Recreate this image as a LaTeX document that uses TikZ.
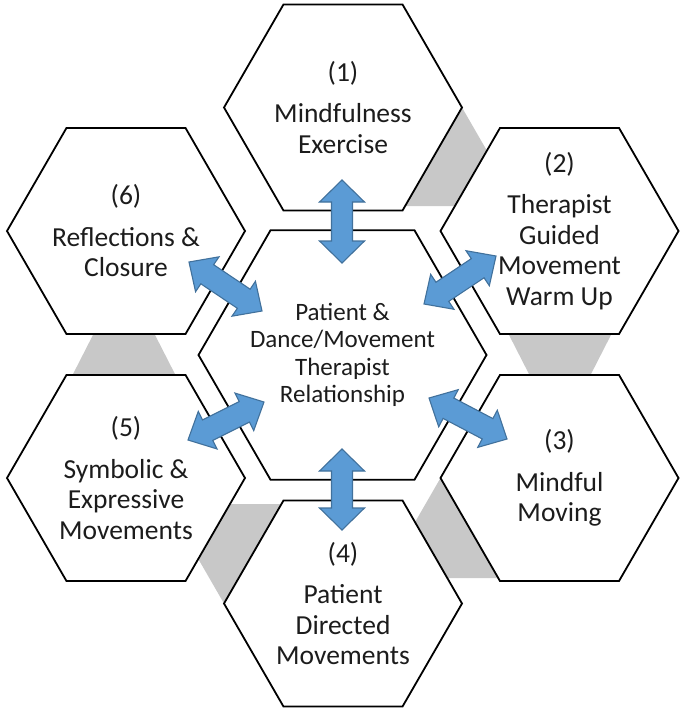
\documentclass[tikz,border=0pt]{standalone}
\usepackage{fontspec}
\setmainfont{Carlito}
\usetikzlibrary{calc}
\definecolor{arrowfill}{RGB}{91,155,213}
\definecolor{arrowline}{RGB}{65,113,156}
\definecolor{greyband}{RGB}{200,200,200}
\definecolor{txt}{RGB}{28,28,28}
\newcommand\myhex[2]{\draw[hexline] ([shift={(0:#2)}]#1) -- ([shift={(60:#2)}]#1) -- ([shift={(120:#2)}]#1) -- ([shift={(180:#2)}]#1) -- ([shift={(240:#2)}]#1) -- ([shift={(300:#2)}]#1) -- cycle;}
\newcommand\dblarrow[5]{%
 \draw[blockarrow] (#1) -- ($(#1)!#5!(#2)!#3!90:(#2)$) -- ($(#1)!#5!(#2)!#4!90:(#2)$) -- ($(#2)!#5!(#1)!#4!-90:(#1)$) -- ($(#2)!#5!(#1)!#3!-90:(#1)$) -- (#2) -- ($(#2)!#5!(#1)!#3!90:(#1)$) -- ($(#2)!#5!(#1)!#4!90:(#1)$) -- ($(#1)!#5!(#2)!#4!-90:(#2)$) -- ($(#1)!#5!(#2)!#3!-90:(#2)$) -- cycle;}
\begin{document}
\begin{tikzpicture}[x=1pt,y=-1pt,
  hexline/.style={draw=black,line width=1.8pt,fill=white,line join=miter},
  band/.style={fill=greyband},
  blockarrow/.style={fill=arrowfill,draw=arrowline,line width=1.1pt,line join=miter},
  outertext/.style={align=center,text=txt,inner sep=0pt,font=\fontsize{27.5}{30.5}\selectfont},
  centertext/.style={align=center,text=txt,inner sep=0pt,font=\fontsize{25}{27.5}\selectfont}]
\useasboundingbox (0,0) rectangle (685,712);
% hexagon centres
\coordinate (hc) at (342.5,355);
\coordinate (h1) at (343,107.5);
\coordinate (h2) at (559.5,231);
\coordinate (h3) at (559.5,478);
\coordinate (h4) at (343,603.5);
\coordinate (h5) at (126,478);
\coordinate (h6) at (126,231);
% grey bands between consecutive steps
\fill[band] (462,107.5) -- (489.7,155.5) -- (457,206) -- (403,206) -- cycle;
\fill[band] (506.5,330) -- (613.5,330) -- (588.5,379) -- (531.5,379) -- cycle;
\fill[band] (440.5,478) -- (412.8,526) -- (445,578) -- (500,578) -- cycle;
\fill[band] (224,603.5) -- (196.3,555.5) -- (228,504) -- (283,504) -- cycle;
\fill[band] (95.5,330) -- (152.5,330) -- (177.5,379) -- (70.5,379) -- cycle;
% hexagons
\myhex{hc}{144}
\myhex{h1}{119}
\myhex{h2}{119}
\myhex{h3}{119}
\myhex{h4}{119}
\myhex{h5}{119}
\myhex{h6}{119}
% texts
\node[centertext] (tc) at (hc) {Patient \&\\Dance/Movement\\Therapist\\Relationship};
\node[outertext] (t1) at (h1) {(1)\\[11pt]Mindfulness\\Exercise};
\node[outertext] (t2) at (h2) {(2)\\[11pt]Therapist\\Guided\\Movement\\Warm Up};
\node[outertext] (t3) at (h3) {(3)\\[11pt]Mindful\\Moving};
\node[outertext] (t4) at (h4) {(4)\\[11pt]Patient\\Directed\\Movements};
\node[outertext] (t5) at (h5) {(5)\\[11pt]Symbolic \&\\Expressive\\Movements};
\node[outertext] (t6) at (h6) {(6)\\[11pt]Reflections \&\\Closure};
% arrow end points
\coordinate (a1a) at (342,180);   \coordinate (a1b) at (342,263);
\coordinate (a4a) at (342,449);   \coordinate (a4b) at (342,530);
\coordinate (a6a) at (189,262);   \coordinate (a6b) at (262,311);
\coordinate (a2a) at (424,304);   \coordinate (a2b) at (496,256);
\coordinate (a5a) at (188,440);   \coordinate (a5b) at (264,402);
\coordinate (a3a) at (429,398);   \coordinate (a3b) at (507,439);
\dblarrow{a1a}{a1b}{22.5pt}{10.5pt}{22pt}
\dblarrow{a4a}{a4b}{22.5pt}{10.5pt}{22pt}
\dblarrow{a6a}{a6b}{21pt}{11.5pt}{22pt}
\dblarrow{a2a}{a2b}{21pt}{11.5pt}{22pt}
\dblarrow{a5a}{a5b}{21pt}{11.5pt}{22pt}
\dblarrow{a3a}{a3b}{21pt}{11.5pt}{22pt}
\end{tikzpicture}
\end{document}
